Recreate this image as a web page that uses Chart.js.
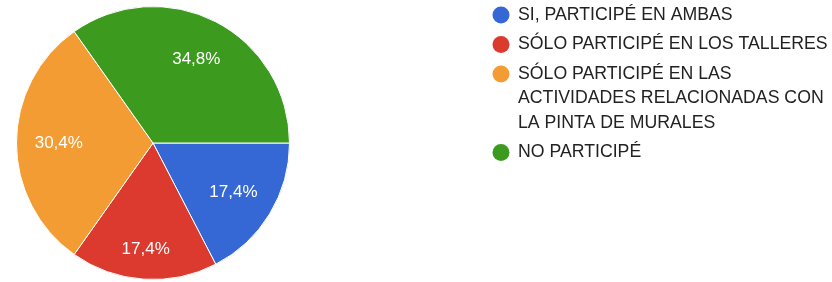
<!DOCTYPE html>
<html lang="es">
<head>
    <meta charset="UTF-8">
    <title>Participación</title>
    <script src="https://cdn.jsdelivr.net/npm/chart.js"></script>
    <style>
        html, body {
            margin: 0;
            padding: 0;
            background: #ffffff;
        }
        .wrap {
            position: relative;
            width: 832px;
            height: 282px;
        }
    </style>
</head>
<body>
    <div class="wrap">
        <canvas id="pieChart" width="832" height="282"></canvas>
    </div>

    <script>
        // Datos del gráfico
        const categorias = [
            ['SI, PARTICIPÉ EN AMBAS'],
            ['SÓLO PARTICIPÉ EN LOS TALLERES'],
            ['SÓLO PARTICIPÉ EN LAS', 'ACTIVIDADES RELACIONADAS CON', 'LA PINTA DE MURALES'],
            ['NO PARTICIPÉ']
        ];
        const porcentajes = [17.4, 17.4, 30.4, 34.8];
        const colores = ['#3568d4', '#dc3a2f', '#f39c33', '#3c9b1f'];

        const FUENTE = '"Liberation Sans", Arial, sans-serif';

        // Porcentajes dentro de cada sector
        const etiquetasSectores = {
            id: 'etiquetasSectores',
            afterDatasetsDraw(chart) {
                const ctx = chart.ctx;
                const meta = chart.getDatasetMeta(0);
                ctx.save();
                ctx.fillStyle = '#ffffff';
                ctx.font = '17px ' + FUENTE;
                ctx.textAlign = 'center';
                ctx.textBaseline = 'middle';
                meta.data.forEach((arc, i) => {
                    const p = arc.getProps(['x', 'y', 'startAngle', 'endAngle', 'outerRadius']);
                    const mid = (p.startAngle + p.endAngle) / 2;
                    // el sector inferior lleva la etiqueta un poco más afuera
                    const r = p.outerRadius * (Math.sin(mid) > 0.95 ? 0.78 : 0.69);
                    const txt = porcentajes[i].toFixed(1).replace('.', ',') + '%';
                    ctx.fillText(txt, p.x + Math.cos(mid) * r, p.y + Math.sin(mid) * r);
                });
                ctx.restore();
            }
        };

        // Leyenda a la derecha con texto en varias líneas
        const leyenda = {
            id: 'leyenda',
            afterDraw(chart) {
                const ctx = chart.ctx;
                const x0 = 501;
                const xt = 518;
                let y = 15;
                ctx.save();
                ctx.font = '17.7px ' + FUENTE;
                ctx.textBaseline = 'middle';
                ctx.textAlign = 'left';
                categorias.forEach((lineas, i) => {
                    ctx.fillStyle = colores[i];
                    ctx.beginPath();
                    ctx.arc(x0, y, 8.5, 0, Math.PI * 2);
                    ctx.fill();
                    ctx.fillStyle = '#222222';
                    lineas.forEach((l, j) => {
                        ctx.fillText(l, xt, y + j * 24.5);
                    });
                    y += (lineas.length - 1) * 24.5 + 29.5;
                });
                ctx.restore();
            }
        };

        new Chart(document.getElementById('pieChart'), {
            type: 'pie',
            data: {
                labels: categorias.map(c => c.join(' ')),
                datasets: [{
                    data: porcentajes,
                    backgroundColor: colores,
                    borderColor: '#ffffff',
                    borderWidth: 1
                }]
            },
            options: {
                responsive: false,
                animation: false,
                rotation: 90,
                layout: {
                    padding: { left: 16, right: 542, top: 6, bottom: 2 }
                },
                plugins: {
                    legend: { display: false },
                    tooltip: { enabled: false }
                }
            },
            plugins: [etiquetasSectores, leyenda]
        });
    </script>
</body>
</html>
